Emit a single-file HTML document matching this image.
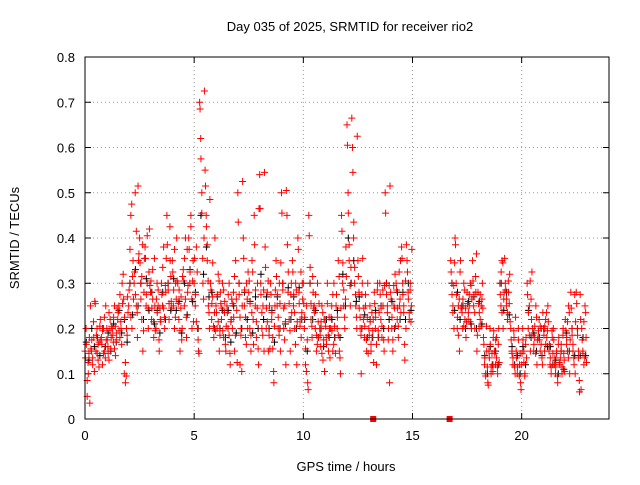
<!DOCTYPE html>
<html><head><meta charset="utf-8"><style>
body{margin:0;background:#fff}
svg{font-family:"Liberation Sans",sans-serif;font-size:13px}
</style></head><body>
<svg id="c" width="640" height="480">
<rect width="640" height="480" fill="#fff"/>
<text x="350" y="31" text-anchor="middle">Day 035 of 2025, SRMTID for receiver rio2</text>
<text x="346" y="471" text-anchor="middle">GPS time / hours</text>
<text transform="translate(19,238) rotate(-90)" text-anchor="middle">SRMTID / TECUs</text>
<g id="grid"></g><g id="axes"></g><g id="black"></g><g id="red"></g>
<rect x="85" y="57" width="524" height="362" fill="none" stroke="#000"/>
</svg>
<script>
const xTicks=[0,5,10,15,20];
const yTicks=[0,0.1,0.2,0.3,0.4,0.5,0.6,0.7,0.8];
const yTickLabels=["0","0.1","0.2","0.3","0.4","0.5","0.6","0.7","0.8"];
const binStarts=[0,0.25,0.5,0.75,1,1.25,1.5,1.75,2,2.25,2.5,2.75,3,3.25,3.5,3.75,4,4.25,4.5,4.75,5,5.25,5.5,5.75,6,6.25,6.5,6.75,7,7.25,7.5,7.75,8,8.25,8.5,8.75,9,9.25,9.5,9.75,10,10.25,10.5,10.75,11,11.25,11.5,11.75,12,12.25,12.5,12.75,13,13.25,13.5,13.75,14,14.25,14.5,14.75,16.75,17,17.25,17.5,17.75,18,18.25,18.5,18.75,19,19.25,19.5,19.75,20,20.25,20.5,20.75,21,21.25,21.5,21.75,22,22.25,22.5,22.75];
const redValues=[[0.15,0.2,0.05,0.1,0.18],[0.25,0.15,0.12,0.18,0.26],[0.15,0.2,0.13,0.17,0.22],[0.18,0.12,0.2,0.15,0.25],[0.2,0.16,0.13,0.22,0.18],[0.2,0.17,0.25,0.14,0.19],[0.22,0.25,0.18,0.2,0.3],[0.32,0.1,0.08,0.2,0.27],[0.25,0.3,0.45,0.2,0.35],[0.3,0.5,0.25,0.18,0.35],[0.4,0.3,0.22,0.15,0.28],[0.38,0.25,0.3,0.2,0.42],[0.28,0.22,0.33,0.18,0.25],[0.2,0.3,0.25,0.15,0.22],[0.3,0.25,0.38,0.2,0.28],[0.45,0.3,0.22,0.35,0.26],[0.35,0.25,0.2,0.3,0.4],[0.3,0.22,0.15,0.27,0.2],[0.33,0.25,0.4,0.18,0.28],[0.4,0.3,0.45,0.2,0.35],[0.3,0.25,0.38,0.2,0.15],[0.7,0.62,0.5,0.3,0.4],[0.55,0.45,0.35,0.25,0.2],[0.3,0.22,0.27,0.18,0.4],[0.25,0.2,0.32,0.15,0.28],[0.22,0.3,0.18,0.26,0.15],[0.25,0.2,0.3,0.12,0.22],[0.2,0.28,0.15,0.35,0.24],[0.5,0.3,0.12,0.2,0.25],[0.4,0.25,0.18,0.3,0.2],[0.28,0.2,0.15,0.35,0.22],[0.45,0.25,0.18,0.3,0.12],[0.54,0.3,0.2,0.25,0.15],[0.38,0.2,0.28,0.15,0.25],[0.3,0.22,0.18,0.08,0.25],[0.35,0.25,0.2,0.3,0.15],[0.5,0.3,0.2,0.25,0.12],[0.45,0.28,0.22,0.15,0.3],[0.35,0.25,0.2,0.3,0.12],[0.4,0.28,0.22,0.18,0.3],[0.3,0.2,0.12,0.25,0.08],[0.45,0.3,0.22,0.18,0.28],[0.25,0.2,0.15,0.3,0.18],[0.2,0.16,0.25,0.13,0.22],[0.22,0.18,0.3,0.15,0.2],[0.2,0.25,0.15,0.3,0.18],[0.25,0.2,0.35,0.15,0.1],[0.45,0.3,0.25,0.2,0.38],[0.65,0.5,0.35,0.25,0.3],[0.6,0.4,0.3,0.25,0.2],[0.35,0.28,0.2,0.1,0.3],[0.22,0.18,0.25,0.15,0.3],[0.2,0.25,0.15,0.18,0.22],[0.28,0.2,0.12,0.3,0.18],[0.3,0.22,0.18,0.25,0.15],[0.5,0.3,0.25,0.2,0.08],[0.28,0.2,0.15,0.25,0.32],[0.3,0.22,0.18,0.25,0.35],[0.38,0.3,0.25,0.13,0.2],[0.35,0.28,0.22,0.3,0.25],[0.35,0.3,0.25,0.2,0.4],[0.3,0.2,0.25,0.15,0.35],[0.25,0.2,0.3,0.22,0.18],[0.28,0.22,0.25,0.3,0.2],[0.35,0.25,0.2,0.28,0.15],[0.28,0.2,0.22,0.25,0.3],[0.18,0.12,0.1,0.15,0.08],[0.15,0.2,0.1,0.12,0.18],[0.15,0.12,0.18,0.1,0.2],[0.3,0.25,0.35,0.2,0.28],[0.3,0.25,0.22,0.28,0.32],[0.2,0.15,0.12,0.18,0.1],[0.15,0.1,0.2,0.12,0.08],[0.12,0.2,0.15,0.1,0.18],[0.3,0.2,0.25,0.15,0.22],[0.2,0.15,0.18,0.25,0.12],[0.18,0.22,0.15,0.2,0.12],[0.2,0.15,0.22,0.18,0.25],[0.15,0.12,0.1,0.18,0.2],[0.12,0.1,0.15,0.08,0.18],[0.12,0.15,0.1,0.2,0.13],[0.22,0.18,0.15,0.25,0.1],[0.28,0.2,0.15,0.12,0.1],[0.28,0.2,0.15,0.06,0.22],[0.2,0.15,0.12,0.25,0.18]];
const redValues2=[[0.135,0.165,0.085,0.125,0.145,0.035],[0.155,0.175,0.135,0.215,0.105,0.255],[0.185,0.145,0.165,0.115,0.205,0.175],[0.165,0.195,0.145,0.225,0.135,0.175],[0.175,0.145,0.235,0.195,0.155,0.205],[0.185,0.225,0.155,0.205,0.175,0.245],[0.235,0.195,0.275,0.215,0.165,0.255],[0.265,0.225,0.125,0.095,0.185,0.235],[0.285,0.375,0.225,0.475,0.315,0.265],[0.325,0.275,0.415,0.235,0.515,0.365],[0.345,0.265,0.315,0.385,0.195,0.355],[0.355,0.275,0.405,0.245,0.325,0.295],[0.305,0.245,0.265,0.215,0.355,0.195],[0.265,0.235,0.285,0.175,0.245,0.215],[0.275,0.335,0.245,0.225,0.295,0.355],[0.385,0.285,0.255,0.425,0.315,0.245],[0.325,0.285,0.375,0.225,0.265,0.305],[0.255,0.285,0.195,0.245,0.175,0.315],[0.305,0.355,0.265,0.225,0.375,0.295],[0.375,0.325,0.425,0.265,0.305,0.215],[0.355,0.275,0.215,0.325,0.175,0.145],[0.685,0.575,0.455,0.355,0.265,0.725],[0.515,0.425,0.385,0.305,0.235,0.485],[0.285,0.255,0.345,0.205,0.235,0.195],[0.235,0.275,0.215,0.305,0.185,0.255],[0.245,0.195,0.285,0.235,0.165,0.205],[0.235,0.275,0.185,0.145,0.215,0.265],[0.255,0.225,0.315,0.185,0.265,0.125],[0.435,0.275,0.225,0.185,0.105,0.525],[0.355,0.285,0.225,0.165,0.265,0.325],[0.305,0.255,0.185,0.235,0.325,0.165],[0.385,0.285,0.215,0.245,0.155,0.465],[0.465,0.275,0.235,0.185,0.285,0.545],[0.335,0.245,0.215,0.305,0.185,0.155],[0.275,0.235,0.155,0.105,0.205,0.285],[0.315,0.275,0.225,0.185,0.255,0.345],[0.455,0.285,0.245,0.175,0.215,0.505],[0.385,0.325,0.255,0.195,0.275,0.235],[0.325,0.275,0.235,0.165,0.285,0.215],[0.375,0.255,0.205,0.325,0.235,0.265],[0.255,0.225,0.155,0.105,0.175,0.065],[0.405,0.335,0.255,0.205,0.315,0.245],[0.235,0.275,0.185,0.165,0.215,0.255],[0.185,0.215,0.145,0.235,0.175,0.105],[0.205,0.165,0.255,0.185,0.225,0.135],[0.225,0.195,0.275,0.165,0.205,0.145],[0.275,0.225,0.185,0.315,0.135,0.245],[0.415,0.345,0.285,0.225,0.265,0.315],[0.605,0.455,0.385,0.295,0.335,0.665],[0.545,0.435,0.335,0.275,0.225,0.625],[0.315,0.245,0.225,0.185,0.275,0.355],[0.245,0.205,0.275,0.175,0.225,0.145],[0.185,0.215,0.165,0.235,0.195,0.125],[0.255,0.225,0.165,0.285,0.195,0.235],[0.275,0.245,0.205,0.285,0.175,0.295],[0.455,0.275,0.235,0.175,0.295,0.515],[0.265,0.225,0.175,0.295,0.245,0.205],[0.285,0.245,0.205,0.325,0.265,0.235],[0.355,0.275,0.235,0.165,0.305,0.385],[0.325,0.265,0.235,0.285,0.215,0.375],[0.325,0.275,0.235,0.295,0.345,0.385],[0.275,0.225,0.185,0.265,0.325,0.245],[0.235,0.265,0.205,0.285,0.245,0.215],[0.255,0.235,0.275,0.215,0.295,0.265],[0.305,0.275,0.235,0.315,0.365,0.185],[0.255,0.235,0.275,0.205,0.265,0.245],[0.165,0.135,0.095,0.205,0.115,0.075],[0.135,0.165,0.115,0.145,0.105,0.195],[0.145,0.175,0.135,0.115,0.165,0.125],[0.275,0.325,0.235,0.345,0.265,0.355],[0.285,0.265,0.235,0.305,0.255,0.215],[0.175,0.145,0.135,0.195,0.115,0.225],[0.135,0.115,0.175,0.095,0.145,0.065],[0.145,0.175,0.125,0.095,0.165,0.135],[0.275,0.235,0.185,0.305,0.265,0.325],[0.185,0.165,0.205,0.145,0.225,0.175],[0.195,0.175,0.205,0.165,0.135,0.235],[0.185,0.205,0.165,0.235,0.195,0.215],[0.165,0.135,0.115,0.195,0.145,0.175],[0.135,0.115,0.145,0.095,0.165,0.125],[0.135,0.165,0.115,0.185,0.145,0.105],[0.195,0.165,0.215,0.135,0.235,0.175],[0.245,0.185,0.165,0.135,0.275,0.215],[0.255,0.185,0.135,0.085,0.275,0.065],[0.175,0.145,0.215,0.135,0.235,0.125]];
const blackValues=[[0.17,0.13],[0.2,0.16],[0.18,0.14],[0.2,0.16],[0.19,0.15],[0.21,0.17],[0.24,0.19],[0.22,0.17],[0.3,0.23],[0.33,0.25],[0.3,0.22],[0.31,0.24],[0.28,0.21],[0.24,0.19],[0.28,0.22],[0.3,0.24],[0.31,0.24],[0.26,0.19],[0.3,0.23],[0.33,0.26],[0.28,0.2],[0.45,0.32],[0.38,0.27],[0.28,0.2],[0.27,0.2],[0.24,0.18],[0.24,0.17],[0.25,0.19],[0.3,0.2],[0.28,0.22],[0.26,0.19],[0.27,0.2],[0.32,0.22],[0.27,0.2],[0.24,0.17],[0.27,0.2],[0.3,0.21],[0.29,0.22],[0.27,0.2],[0.29,0.22],[0.22,0.15],[0.3,0.22],[0.24,0.18],[0.2,0.16],[0.22,0.18],[0.22,0.18],[0.24,0.18],[0.32,0.25],[0.4,0.3],[0.35,0.26],[0.27,0.2],[0.23,0.18],[0.22,0.18],[0.24,0.18],[0.25,0.2],[0.3,0.22],[0.26,0.2],[0.28,0.22],[0.28,0.22],[0.3,0.24],[0.3,0.24],[0.28,0.22],[0.25,0.2],[0.26,0.21],[0.27,0.2],[0.26,0.21],[0.14,0.1],[0.16,0.12],[0.15,0.12],[0.3,0.24],[0.28,0.23],[0.16,0.12],[0.14,0.1],[0.16,0.12],[0.24,0.18],[0.19,0.15],[0.18,0.14],[0.2,0.16],[0.16,0.12],[0.13,0.1],[0.15,0.11],[0.19,0.15],[0.2,0.14],[0.2,0.14],[0.18,0.14]];
const zeroMarkTimes=[13.2,16.7];

const NS="http://www.w3.org/2000/svg";
const X0=85,X1=609,Y0=419,Y1=57,XMAX=24,YMAX=0.8;
const xs=t=>X0+(t/XMAX)*(X1-X0);
const ys=v=>Y0-(v/YMAX)*(Y0-Y1);
function mk(tag,attrs,parent){const e=document.createElementNS(NS,tag);for(const k in attrs)e.setAttribute(k,attrs[k]);parent.appendChild(e);return e;}
const grid=document.getElementById('grid'),axes=document.getElementById('axes');
xTicks.forEach(t=>{const x=xs(t);
 if(t>0){const g=mk('line',{x1:x,x2:x,y1:Y0,y2:Y1,stroke:'#999','stroke-dasharray':'1,3'},grid);}
 mk('line',{x1:x,x2:x,y1:Y0,y2:Y0-6,stroke:'#000'},axes);mk('line',{x1:x,x2:x,y1:Y1,y2:Y1+6,stroke:'#000'},axes);
 const l=mk('text',{x:x,y:Y0+21,'text-anchor':'middle'},axes);l.textContent=t;
 
 });
yTicks.forEach((v,i)=>{const y=ys(v);
 if(v>0&&v<YMAX){const g=mk('line',{x1:X0,x2:X1,y1:y,y2:y,stroke:'#999','stroke-dasharray':'1,3'},grid);}
 mk('line',{x1:X0,x2:X0+6,y1:y,y2:y,stroke:'#000'},axes);mk('line',{x1:X1,x2:X1-6,y1:y,y2:y,stroke:'#000'},axes);
 const l=mk('text',{x:X0-10,y:y+5,'text-anchor':'end'},axes);l.textContent=yTickLabels[i];
 
 });
function plus(g,t,v,col,name){const x=xs(t),y=ys(v);
 const p=mk('path',{d:`M${x-3.5},${y}h7M${x},${y-3.5}v7`,stroke:col,'stroke-width':1,fill:'none'},g);
 
 }
const bg=document.getElementById('black'),rg=document.getElementById('red');
binStarts.forEach((t,i)=>{blackValues[i].forEach((v,j)=>plus(bg,t+0.06+j*0.12,v,'#000','black-point'));});
binStarts.forEach((t,i)=>{redValues[i].forEach((v,j)=>plus(rg,t+j*0.05,v,'#f00','red-point'));});
binStarts.forEach((t,i)=>{redValues2[i].forEach((v,j)=>plus(rg,t+0.02+j*0.04,v,'#f00','red-point'));});
zeroMarkTimes.forEach(t=>{const r=mk('rect',{x:xs(t)-3,y:Y0-3,width:6,height:6,fill:'#f00'},rg);
 
 });
</script>
</body></html>
